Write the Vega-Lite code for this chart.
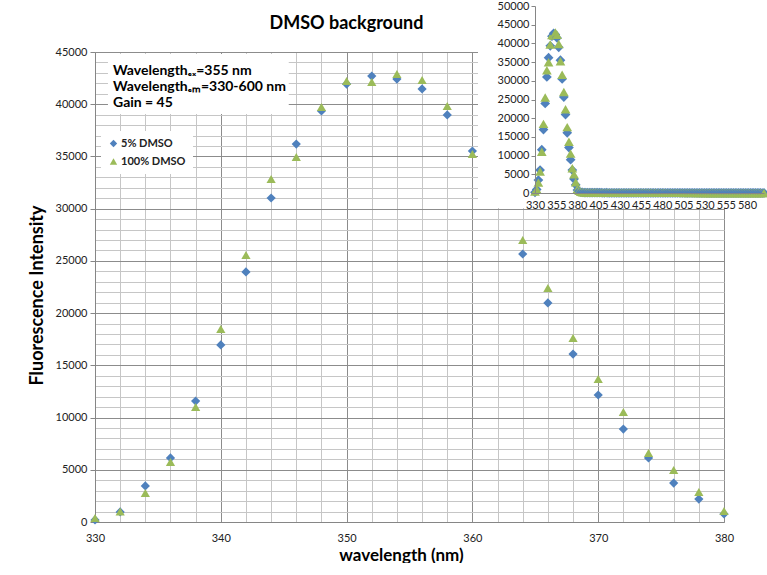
{
  "$schema": "https://vega.github.io/schema/vega-lite/v6.json",
  "padding": {"left": 28, "top": 0, "right": 0, "bottom": 0},
  "background": "white",
  "config": {"view": {"stroke": null}, "font": "Lato"},
  "datasets": {
    "spec": [
      {"w":330,"5% DMSO":200,"100% DMSO":380},
      {"w":332,"5% DMSO":960,"100% DMSO":1000},
      {"w":334,"5% DMSO":3450,"100% DMSO":2780},
      {"w":336,"5% DMSO":6130,"100% DMSO":5740},
      {"w":338,"5% DMSO":11580,"100% DMSO":11010},
      {"w":340,"5% DMSO":16950,"100% DMSO":18480},
      {"w":342,"5% DMSO":23940,"100% DMSO":25560},
      {"w":344,"5% DMSO":31020,"100% DMSO":32840},
      {"w":346,"5% DMSO":36190,"100% DMSO":34950},
      {"w":348,"5% DMSO":39350,"100% DMSO":39730},
      {"w":350,"5% DMSO":41930,"100% DMSO":42220},
      {"w":352,"5% DMSO":42700,"100% DMSO":42130},
      {"w":354,"5% DMSO":42410,"100% DMSO":42890},
      {"w":356,"5% DMSO":41460,"100% DMSO":42320},
      {"w":358,"5% DMSO":38970,"100% DMSO":39830},
      {"w":360,"5% DMSO":35520,"100% DMSO":35230},
      {"w":362,"5% DMSO":30500,"100% DMSO":31600},
      {"w":364,"5% DMSO":25660,"100% DMSO":27000},
      {"w":366,"5% DMSO":20970,"100% DMSO":22400},
      {"w":368,"5% DMSO":16080,"100% DMSO":17620},
      {"w":370,"5% DMSO":12160,"100% DMSO":13690},
      {"w":372,"5% DMSO":8900,"100% DMSO":10530},
      {"w":374,"5% DMSO":6130,"100% DMSO":6600},
      {"w":376,"5% DMSO":3730,"100% DMSO":4980},
      {"w":378,"5% DMSO":2200,"100% DMSO":2870},
      {"w":380,"5% DMSO":770,"100% DMSO":1050},
      {"w":382,"5% DMSO":450,"100% DMSO":600},
      {"w":384,"5% DMSO":220,"100% DMSO":310},
      {"w":386,"5% DMSO":160,"100% DMSO":210},
      {"w":388,"5% DMSO":120,"100% DMSO":170},
      {"w":390,"5% DMSO":110,"100% DMSO":150},
      {"w":392,"5% DMSO":100,"100% DMSO":140},
      {"w":394,"5% DMSO":90,"100% DMSO":130},
      {"w":396,"5% DMSO":95,"100% DMSO":120},
      {"w":398,"5% DMSO":80,"100% DMSO":125},
      {"w":400,"5% DMSO":85,"100% DMSO":110},
      {"w":402,"5% DMSO":70,"100% DMSO":115},
      {"w":404,"5% DMSO":75,"100% DMSO":105},
      {"w":406,"5% DMSO":80,"100% DMSO":100},
      {"w":408,"5% DMSO":70,"100% DMSO":95},
      {"w":410,"5% DMSO":65,"100% DMSO":100},
      {"w":412,"5% DMSO":60,"100% DMSO":90},
      {"w":414,"5% DMSO":70,"100% DMSO":95},
      {"w":416,"5% DMSO":60,"100% DMSO":85},
      {"w":418,"5% DMSO":55,"100% DMSO":90},
      {"w":420,"5% DMSO":65,"100% DMSO":80},
      {"w":422,"5% DMSO":60,"100% DMSO":85},
      {"w":424,"5% DMSO":50,"100% DMSO":80},
      {"w":426,"5% DMSO":55,"100% DMSO":75},
      {"w":428,"5% DMSO":60,"100% DMSO":80},
      {"w":430,"5% DMSO":50,"100% DMSO":70},
      {"w":432,"5% DMSO":55,"100% DMSO":75},
      {"w":434,"5% DMSO":45,"100% DMSO":70},
      {"w":436,"5% DMSO":50,"100% DMSO":65},
      {"w":438,"5% DMSO":55,"100% DMSO":70},
      {"w":440,"5% DMSO":45,"100% DMSO":60},
      {"w":442,"5% DMSO":50,"100% DMSO":65},
      {"w":444,"5% DMSO":40,"100% DMSO":60},
      {"w":446,"5% DMSO":45,"100% DMSO":55},
      {"w":448,"5% DMSO":50,"100% DMSO":60},
      {"w":450,"5% DMSO":40,"100% DMSO":55},
      {"w":452,"5% DMSO":45,"100% DMSO":60},
      {"w":454,"5% DMSO":40,"100% DMSO":50},
      {"w":456,"5% DMSO":35,"100% DMSO":55},
      {"w":458,"5% DMSO":45,"100% DMSO":50},
      {"w":460,"5% DMSO":40,"100% DMSO":55},
      {"w":462,"5% DMSO":35,"100% DMSO":45},
      {"w":464,"5% DMSO":40,"100% DMSO":50},
      {"w":466,"5% DMSO":35,"100% DMSO":45},
      {"w":468,"5% DMSO":30,"100% DMSO":50},
      {"w":470,"5% DMSO":35,"100% DMSO":40},
      {"w":472,"5% DMSO":40,"100% DMSO":45},
      {"w":474,"5% DMSO":30,"100% DMSO":40},
      {"w":476,"5% DMSO":35,"100% DMSO":45},
      {"w":478,"5% DMSO":30,"100% DMSO":35},
      {"w":480,"5% DMSO":35,"100% DMSO":40},
      {"w":482,"5% DMSO":30,"100% DMSO":45},
      {"w":484,"5% DMSO":25,"100% DMSO":35},
      {"w":486,"5% DMSO":30,"100% DMSO":40},
      {"w":488,"5% DMSO":35,"100% DMSO":35},
      {"w":490,"5% DMSO":25,"100% DMSO":40},
      {"w":492,"5% DMSO":30,"100% DMSO":30},
      {"w":494,"5% DMSO":25,"100% DMSO":35},
      {"w":496,"5% DMSO":30,"100% DMSO":40},
      {"w":498,"5% DMSO":20,"100% DMSO":30},
      {"w":500,"5% DMSO":25,"100% DMSO":35},
      {"w":502,"5% DMSO":30,"100% DMSO":30},
      {"w":504,"5% DMSO":20,"100% DMSO":35},
      {"w":506,"5% DMSO":25,"100% DMSO":25},
      {"w":508,"5% DMSO":20,"100% DMSO":30},
      {"w":510,"5% DMSO":25,"100% DMSO":35},
      {"w":512,"5% DMSO":20,"100% DMSO":25},
      {"w":514,"5% DMSO":25,"100% DMSO":30},
      {"w":516,"5% DMSO":15,"100% DMSO":30},
      {"w":518,"5% DMSO":20,"100% DMSO":25},
      {"w":520,"5% DMSO":25,"100% DMSO":30},
      {"w":522,"5% DMSO":20,"100% DMSO":20},
      {"w":524,"5% DMSO":15,"100% DMSO":25},
      {"w":526,"5% DMSO":20,"100% DMSO":30},
      {"w":528,"5% DMSO":15,"100% DMSO":20},
      {"w":530,"5% DMSO":20,"100% DMSO":25},
      {"w":532,"5% DMSO":15,"100% DMSO":25},
      {"w":534,"5% DMSO":20,"100% DMSO":20},
      {"w":536,"5% DMSO":15,"100% DMSO":25},
      {"w":538,"5% DMSO":10,"100% DMSO":20},
      {"w":540,"5% DMSO":15,"100% DMSO":25},
      {"w":542,"5% DMSO":20,"100% DMSO":15},
      {"w":544,"5% DMSO":15,"100% DMSO":20},
      {"w":546,"5% DMSO":10,"100% DMSO":20},
      {"w":548,"5% DMSO":15,"100% DMSO":25},
      {"w":550,"5% DMSO":10,"100% DMSO":15},
      {"w":552,"5% DMSO":15,"100% DMSO":20},
      {"w":554,"5% DMSO":10,"100% DMSO":20},
      {"w":556,"5% DMSO":15,"100% DMSO":15},
      {"w":558,"5% DMSO":10,"100% DMSO":20},
      {"w":560,"5% DMSO":15,"100% DMSO":15},
      {"w":562,"5% DMSO":10,"100% DMSO":20},
      {"w":564,"5% DMSO":5,"100% DMSO":15},
      {"w":566,"5% DMSO":10,"100% DMSO":10},
      {"w":568,"5% DMSO":15,"100% DMSO":15},
      {"w":570,"5% DMSO":10,"100% DMSO":20},
      {"w":572,"5% DMSO":5,"100% DMSO":10},
      {"w":574,"5% DMSO":10,"100% DMSO":15},
      {"w":576,"5% DMSO":10,"100% DMSO":10},
      {"w":578,"5% DMSO":5,"100% DMSO":15},
      {"w":580,"5% DMSO":10,"100% DMSO":10},
      {"w":582,"5% DMSO":5,"100% DMSO":10},
      {"w":584,"5% DMSO":10,"100% DMSO":15},
      {"w":586,"5% DMSO":5,"100% DMSO":10},
      {"w":588,"5% DMSO":10,"100% DMSO":10},
      {"w":590,"5% DMSO":5,"100% DMSO":5},
      {"w":592,"5% DMSO":10,"100% DMSO":10},
      {"w":594,"5% DMSO":5,"100% DMSO":10},
      {"w":596,"5% DMSO":5,"100% DMSO":5},
      {"w":598,"5% DMSO":0,"100% DMSO":10},
      {"w":600,"5% DMSO":5,"100% DMSO":5}
    ]
  },
  "width": 629,
  "height": 470,
  "title": {"text": "DMSO background", "fontSize": 18, "font": "Lato", "fontWeight": "bold", "color": "black", "frame": "group", "anchor": "middle", "dx": -63, "offset": -33},
  "resolve": {"scale": {"x": "independent", "y": "independent"}, "axis": {"x": "independent", "y": "independent"}},
  "layer": [
    {
      "layer": [
        {
          "data": {"name": "spec"},
          "transform": [{"filter": "datum.w <= 380"}, {"fold": ["5% DMSO", "100% DMSO"], "as": ["series", "value"]}],
          "mark": {"type": "point", "filled": true, "opacity": 1, "size": 85},
          "encoding": {
            "x": {"field": "w", "type": "quantitative", "title": "wavelength (nm)",
              "scale": {"domain": [330, 380], "nice": false, "zero": false},
              "axis": {"orient": "bottom", "values": [330,332,334,336,338,340,342,344,346,348,350,352,354,356,358,360,362,364,366,368,370,372,374,376,378,380], "tickCount": 1000,
                "labelExpr": "datum.value % 10 === 0 ? datum.label : ''", "format": "d", "labelOverlap": false, "labelFlush": false,
                "ticks": false, "gridColor": {"condition": {"test": "datum.value % 10 === 0", "value": "#8c8c8c"}, "value": "#c6c6c6"},
                "domainColor": "#868686", "labelFontSize": 11, "labelColor": "#222222", "labelPadding": 10, "labelFont": "Lato",
                "titleFontSize": 17, "titleFontWeight": "bold", "titleColor": "black", "titlePadding": 4, "titleFont": "Lato", "titleX": 306, "titleAlign": "center"}},
            "y": {"field": "value", "type": "quantitative", "title": "Fluorescence Intensity",
              "scale": {"domain": [0, 45000], "nice": false},
              "axis": {"orient": "left", "values": [0,1000,2000,3000,4000,5000,6000,7000,8000,9000,10000,11000,12000,13000,14000,15000,16000,17000,18000,19000,20000,21000,22000,23000,24000,25000,26000,27000,28000,29000,30000,31000,32000,33000,34000,35000,36000,37000,38000,39000,40000,41000,42000,43000,44000,45000], "tickCount": 1000,
                "labelExpr": "datum.value % 5000 === 0 ? datum.label : ''", "format": "d", "labelOverlap": false, "labelFlush": false,
                "tickColor": {"condition": {"test": "datum.value % 5000 === 0", "value": "#868686"}, "value": "transparent"}, "tickSize": 5,
                "gridColor": {"condition": {"test": "datum.value % 5000 === 0", "value": "#8c8c8c"}, "value": "#c6c6c6"},
                "domainColor": "#868686", "labelFontSize": 11, "labelColor": "#222222", "labelPadding": 3, "labelFont": "Lato",
                "titleFontSize": 18, "titleFontWeight": "bold", "titleColor": "black", "titlePadding": 9, "titleFont": "Lato", "titleY": 243, "titleAlign": "center"}},
            "color": {"field": "series", "type": "nominal",
              "scale": {"domain": ["5% DMSO", "100% DMSO"], "range": ["#4F81BD", "#9BBB59"]},
              "legend": {"orient": "none", "legendX": 6, "legendY": 79, "title": null, "fillColor": "white", "padding": 7,
                "labelFontSize": 11, "labelFontWeight": "bold", "labelFont": "Lato", "labelColor": "#222222", "symbolSize": 55, "rowPadding": 6, "labelOffset": 2}},
            "shape": {"field": "series", "type": "nominal",
              "scale": {"domain": ["5% DMSO", "100% DMSO"], "range": ["diamond", "triangle-up"]}}
          }
        },
        {
          "data": {"values": [{}]},
          "mark": {"type": "rect", "fill": "white"},
          "encoding": {"x": {"datum": 331.03, "type": "quantitative"}, "x2": {"datum": 345.4}, "y": {"datum": 44806, "type": "quantitative"}, "y2": {"datum": 39062}}
        },
        {
          "data": {"values": [{}]},
          "mark": {"type": "text", "text": "Wavelengthₑₓ=355 nm", "align": "left", "baseline": "middle", "font": "Lato", "fontSize": 14, "fontWeight": "bold", "color": "black"},
          "encoding": {"x": {"datum": 331.43, "type": "quantitative"}, "y": {"datum": 43180, "type": "quantitative"}}
        },
        {
          "data": {"values": [{}]},
          "mark": {"type": "text", "text": "Wavelengthₑₘ=330-600 nm", "align": "left", "baseline": "middle", "font": "Lato", "fontSize": 14, "fontWeight": "bold", "color": "black"},
          "encoding": {"x": {"datum": 331.43, "type": "quantitative"}, "y": {"datum": 41650, "type": "quantitative"}}
        },
        {
          "data": {"values": [{}]},
          "mark": {"type": "text", "text": "Gain  = 45", "align": "left", "baseline": "middle", "font": "Lato", "fontSize": 14, "fontWeight": "bold", "color": "black"},
          "encoding": {"x": {"datum": 331.43, "type": "quantitative"}, "y": {"datum": 40115, "type": "quantitative"}}
        }
      ]
    },
    {
      "layer": [
        {
          "data": {"values": [{}]},
          "mark": {"type": "rect", "fill": "white"},
          "encoding": {"x": {"datum": 262.8, "type": "quantitative"}, "x2": {"datum": 604.7}, "y": {"datum": -4011, "type": "quantitative"}, "y2": {"datum": 51337}}
        },
        {
          "data": {"name": "spec"},
          "transform": [{"fold": ["5% DMSO", "100% DMSO"], "as": ["series", "value"]}],
          "mark": {"type": "point", "filled": true, "opacity": 1, "size": 95},
          "encoding": {
            "x": {"field": "w", "type": "quantitative", "title": null,
              "scale": {"domain": [330, 600], "nice": false, "zero": false, "range": [440, 669]},
              "axis": {"orient": "bottom", "offset": -329, "values": [330,335,340,345,350,355,360,365,370,375,380,385,390,395,400,405,410,415,420,425,430,435,440,445,450,455,460,465,470,475,480,485,490,495,500,505,510,515,520,525,530,535,540,545,550,555,560,565,570,575,580,585,590,595,600], "tickCount": 1000,
                "labelExpr": "(datum.value - 330) % 25 === 0 ? datum.label : ''", "format": "d", "labelOverlap": false, "labelFlush": false,
                "ticks": false, "gridColor": {"condition": {"test": "(datum.value - 330) % 25 === 0", "value": "#8c8c8c"}, "value": "#b0b0b0"},
                "domainColor": "#868686", "labelFontSize": 11, "labelColor": "#222222", "labelPadding": 6, "labelFont": "Lato", "zindex": 1}},
            "y": {"field": "value", "type": "quantitative", "title": null,
              "scale": {"domain": [0, 50000], "nice": false, "range": [141, -46]},
              "axis": {"orient": "left", "offset": -440, "values": [0,1000,2000,3000,4000,5000,6000,7000,8000,9000,10000,11000,12000,13000,14000,15000,16000,17000,18000,19000,20000,21000,22000,23000,24000,25000,26000,27000,28000,29000,30000,31000,32000,33000,34000,35000,36000,37000,38000,39000,40000,41000,42000,43000,44000,45000,46000,47000,48000,49000,50000], "tickCount": 1000,
                "labelExpr": "datum.value % 5000 === 0 ? datum.label : ''", "format": "d", "labelOverlap": false, "labelFlush": false,
                "tickColor": {"condition": {"test": "datum.value % 5000 === 0", "value": "#868686"}, "value": "transparent"}, "tickSize": 4,
                "gridColor": {"condition": {"test": "datum.value % 5000 === 0", "value": "#8c8c8c"}, "value": "#b0b0b0"},
                "domainColor": "#868686", "labelFontSize": 11, "labelColor": "#222222", "labelPadding": 2, "labelFont": "Lato", "zindex": 1}},
            "color": {"field": "series", "type": "nominal",
              "scale": {"domain": ["5% DMSO", "100% DMSO"], "range": ["#4F81BD", "#9BBB59"]}, "legend": null},
            "shape": {"field": "series", "type": "nominal",
              "scale": {"domain": ["5% DMSO", "100% DMSO"], "range": ["diamond", "triangle-up"]}, "legend": null}
          }
        }
      ]
    }
  ]
}
